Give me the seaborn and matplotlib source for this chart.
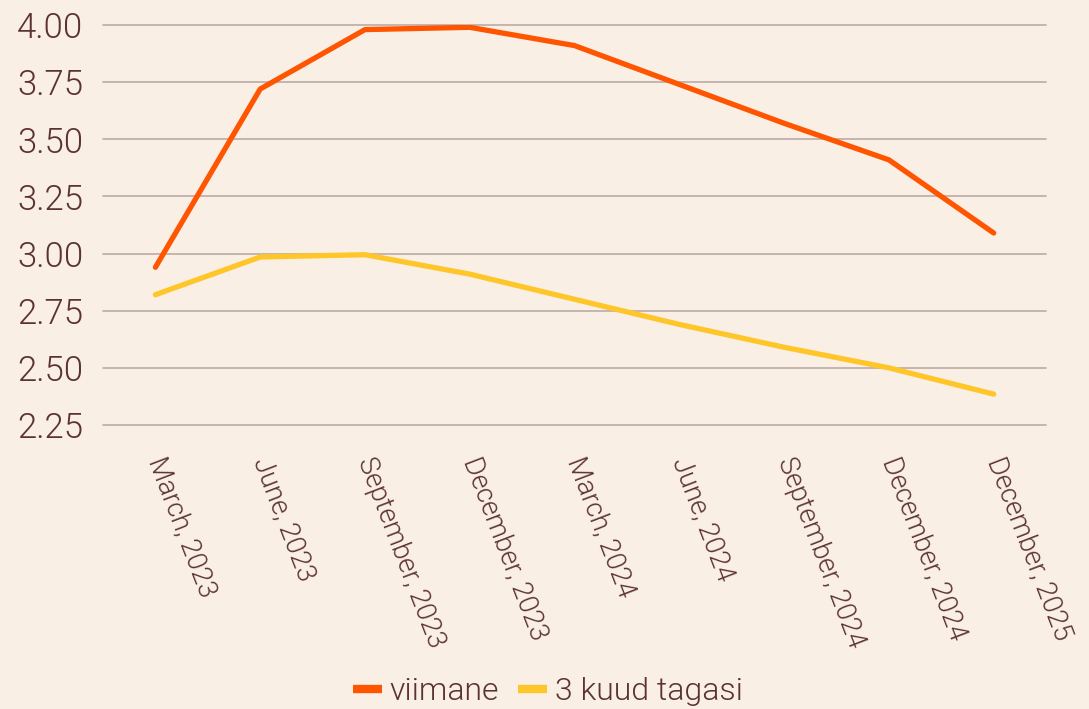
import pandas as pd
import seaborn as sns
from matplotlib import pyplot as plt

# quarterly periods and the two series
periods = ['March, 2023', 'June, 2023', 'September, 2023', 'December, 2023',
           'March, 2024', 'June, 2024', 'September, 2024', 'December, 2024',
           'December, 2025']
viimane = [2.94, 3.72, 3.98, 3.99, 3.91, 3.74, 3.57, 3.41, 3.09]
kuud_tagasi = [2.82, 2.985, 2.995, 2.91, 2.80, 2.69, 2.59, 2.50, 2.385]
series_names = ['viimane', '3 kuud tagasi']
y_ticks = [2.25, 2.50, 2.75, 3.00, 3.25, 3.50, 3.75, 4.00]

bg = '#f9efe5'
text_col = '#5b3232'
grid_col = '#bcaaa6'
colors = ['#ff5500', '#ffc629']


def build_frame():
    df = pd.DataFrame({'period': periods * 2,
                       'value': viimane + kuud_tagasi,
                       'series': [series_names[0]] * len(periods) + [series_names[1]] * len(periods)})
    return df


def make_plot(df):
    sns.set_style('white')
    plt.rcParams['font.family'] = ['Roboto', 'DejaVu Sans']
    plt.rcParams['font.weight'] = 300

    f = plt.figure(figsize=(10.89, 7.09), dpi=100, facecolor=bg)
    ax = f.add_axes([0.0946, 0.4006, 0.866, 0.5641])
    ax.set_facecolor(bg)

    sns.lineplot(data=df, x='period', y='value', hue='series', palette=colors,
                 linewidth=3.8, sort=False, ax=ax, legend=False)

    ax.set_xlim(-0.5, len(periods) - 0.5)
    ax.set_ylim(2.25, 4.0)
    ax.set_yticks(y_ticks)
    ax.set_yticklabels(['%.2f' % v for v in y_ticks], fontsize=25, color=text_col)
    ax.yaxis.grid(True, color=grid_col, linewidth=1.2)
    ax.set_axisbelow(True)
    for g in ax.get_ygridlines():
        g.set_clip_on(False)
    ax.tick_params(axis='y', length=0, pad=14)
    ax.tick_params(axis='x', length=0, pad=24)
    ax.set_xticks(range(len(periods)))
    ax.set_xticklabels(periods, rotation=-69, ha='left', va='center',
                       rotation_mode='anchor', fontsize=19.5, color=text_col)
    ax.set_xlabel('')
    ax.set_ylabel('')
    for s in ax.spines.values():
        s.set_visible(False)

    handles = [plt.Line2D([0], [0], color=c, linewidth=6, solid_capstyle='butt') for c in colors]
    f.legend(handles, series_names, loc='center', bbox_to_anchor=(0.503, 0.024),
             ncol=2, frameon=False, fontsize=23, labelcolor=text_col,
             handlelength=0.9, handletextpad=0.25, columnspacing=0.6)

    plt.savefig('out.png', dpi=100, facecolor=bg)


def main():
    make_plot(build_frame())


if __name__ == "__main__":
    main()
